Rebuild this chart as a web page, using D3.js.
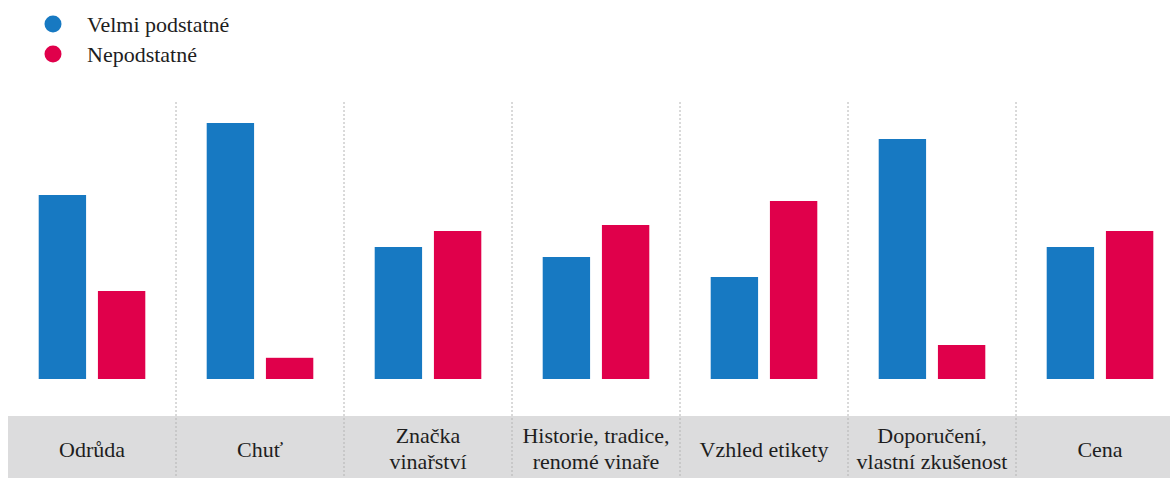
<!DOCTYPE html>
<html>
<head>
<meta charset="utf-8">
<script src="https://cdn.jsdelivr.net/npm/d3@7"></script>
<style>
  html, body { margin: 0; padding: 0; background: #fff; }
  svg { display: block; }
</style>
</head>
<body>
<svg id="chart" width="1170" height="478"></svg>
<script>
// Categories (multi-line labels split by "\n")
const categories = [
  "Odrůda",
  "Chuť",
  "Značka\nvinařství",
  "Historie, tradice,\nrenomé vinaře",
  "Vzhled etikety",
  "Doporučení,\nvlastní zkušenost",
  "Cena"
];
const seriesNames = ["Velmi podstatné", "Nepodstatné"];
const velmiPodstatne = [46, 64, 33, 30.5, 25.5, 60, 33];
const nepodstatne   = [22, 5.3, 37, 38.5, 44.5, 8.5, 37];

const colors = ["#1779c2", "#e0004b"];
const serif = "'Liberation Serif'";

const svg = d3.select("#chart");
const W = 1170, H = 478;

const baseY = 379;
const x = d3.scaleBand().domain(categories).range([8, 1184]).paddingInner(0).paddingOuter(0);
const y = d3.scaleLinear().domain([0, 64]).range([baseY, 123]);
const inner = d3.scaleBand().domain(seriesNames).range([30.7, x.bandwidth() - 30.7]).paddingInner(0.2);

// Gray label band
svg.append("rect")
  .attr("x", x.range()[0]).attr("y", 416)
  .attr("width", W - x.range()[0]).attr("height", H - 416)
  .attr("fill", "#dcdcdd");

// Dotted separators between categories
svg.append("g").selectAll("line")
  .data(categories.slice(1))
  .join("line")
  .attr("x1", d => x(d)).attr("x2", d => x(d))
  .attr("y1", 102).attr("y2", H)
  .attr("stroke", "#b4b4b4")
  .attr("stroke-width", 1)
  .attr("stroke-dasharray", "2,2");

// Bars
const rows = categories.map((c, i) => ({ c, vals: [velmiPodstatne[i], nepodstatne[i]] }));
const groups = svg.append("g").selectAll("g")
  .data(rows)
  .join("g")
  .attr("transform", d => `translate(${x(d.c)},0)`);

groups.selectAll("rect")
  .data(d => d.vals.map((v, k) => ({ k, v })))
  .join("rect")
  .attr("x", d => inner(seriesNames[d.k]))
  .attr("width", inner.bandwidth())
  .attr("y", d => y(d.v))
  .attr("height", d => baseY - y(d.v))
  .attr("fill", d => colors[d.k]);

// Category labels
const labels = svg.append("g").selectAll("text")
  .data(categories)
  .join("text")
  .attr("x", d => x(d) + x.bandwidth() / 2)
  .attr("text-anchor", "middle")
  .style("font-family", serif)
  .style("font-size", "22px")
  .attr("fill", "#1e1e1e");

labels.each(function(d) {
  const lines = d.split("\n");
  const t = d3.select(this);
  const first = lines.length === 1 ? 457 : 443;
  lines.forEach((ln, i) => {
    t.append("tspan")
      .attr("x", x(d) + x.bandwidth() / 2)
      .attr("y", first + i * 26)
      .text(ln);
  });
});

// Legend
const legend = svg.append("g").selectAll("g")
  .data(seriesNames)
  .join("g")
  .attr("transform", (d, i) => `translate(53,${24 + i * 30})`);

legend.append("circle")
  .attr("r", 8.5)
  .attr("fill", (d, i) => colors[i]);

legend.append("text")
  .attr("x", 34)
  .attr("y", 8)
  .style("font-family", serif)
  .style("font-size", "22px")
  .attr("fill", "#1e1e1e")
  .text(d => d);
</script>
</body>
</html>
